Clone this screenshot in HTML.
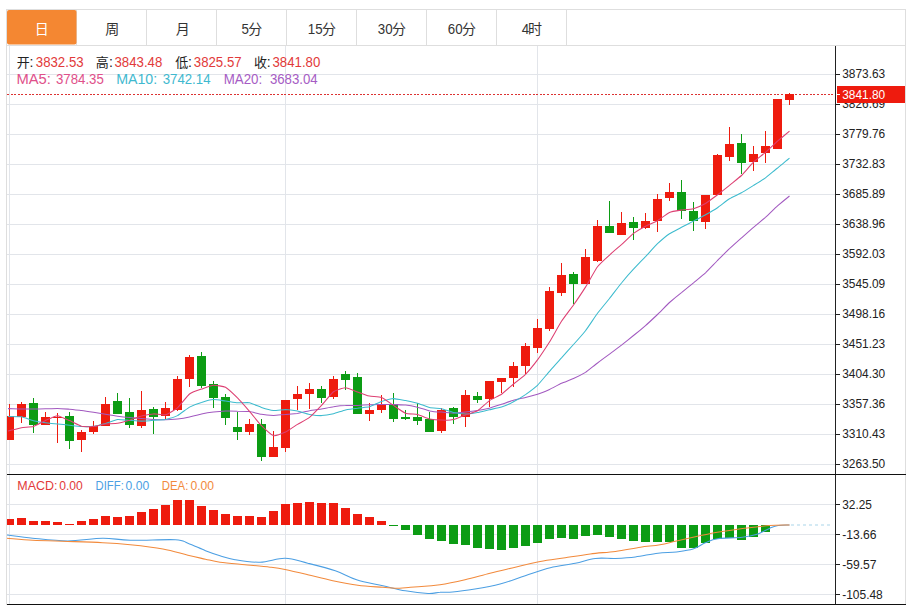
<!DOCTYPE html>
<html><head><meta charset="utf-8"><title>chart</title>
<style>html,body{margin:0;padding:0;background:#fff;width:910px;height:606px;overflow:hidden}</style></head>
<body>
<svg width="910" height="606" viewBox="0 0 910 606" style="display:block;font-family:'Liberation Sans','Noto Sans CJK SC',sans-serif">
<rect width="910" height="606" fill="#fff"/>
<g shape-rendering="crispEdges">
<rect x="7" y="74" width="828" height="1" fill="#e2e5ea"/>
<rect x="7" y="104" width="828" height="1" fill="#e2e5ea"/>
<rect x="7" y="134" width="828" height="1" fill="#e2e5ea"/>
<rect x="7" y="164" width="828" height="1" fill="#e2e5ea"/>
<rect x="7" y="194" width="828" height="1" fill="#e2e5ea"/>
<rect x="7" y="224" width="828" height="1" fill="#e2e5ea"/>
<rect x="7" y="254" width="828" height="1" fill="#e2e5ea"/>
<rect x="7" y="284" width="828" height="1" fill="#e2e5ea"/>
<rect x="7" y="314" width="828" height="1" fill="#e2e5ea"/>
<rect x="7" y="344" width="828" height="1" fill="#e2e5ea"/>
<rect x="7" y="374" width="828" height="1" fill="#e2e5ea"/>
<rect x="7" y="404" width="828" height="1" fill="#e2e5ea"/>
<rect x="7" y="434" width="828" height="1" fill="#e2e5ea"/>
<rect x="7" y="464" width="828" height="1" fill="#e2e5ea"/>
<rect x="7" y="504" width="828" height="1" fill="#e2e5ea"/>
<rect x="7" y="534" width="828" height="1" fill="#e2e5ea"/>
<rect x="7" y="564" width="828" height="1" fill="#e2e5ea"/>
<rect x="7" y="594" width="828" height="1" fill="#e2e5ea"/>
<rect x="9" y="46" width="1" height="428" fill="#e2e5ea"/>
<rect x="9" y="475" width="1" height="129" fill="#e2e5ea"/>
<rect x="285" y="46" width="1" height="428" fill="#e2e5ea"/>
<rect x="285" y="475" width="1" height="129" fill="#e2e5ea"/>
<rect x="537" y="46" width="1" height="428" fill="#e2e5ea"/>
<rect x="537" y="475" width="1" height="129" fill="#e2e5ea"/>
<rect x="6" y="9" width="900" height="1" fill="#dedede"/>
<rect x="6" y="45" width="900" height="1" fill="#dedede"/>
<rect x="6" y="9" width="1" height="596" fill="#dedede"/>
<rect x="905" y="9" width="1" height="596" fill="#dedede"/>
<rect x="76" y="10" width="1" height="35" fill="#dedede"/>
<rect x="146" y="10" width="1" height="35" fill="#dedede"/>
<rect x="216" y="10" width="1" height="35" fill="#dedede"/>
<rect x="286" y="10" width="1" height="35" fill="#dedede"/>
<rect x="356" y="10" width="1" height="35" fill="#dedede"/>
<rect x="426" y="10" width="1" height="35" fill="#dedede"/>
<rect x="496" y="10" width="1" height="35" fill="#dedede"/>
<rect x="566" y="10" width="1" height="35" fill="#dedede"/>
</g>
<rect x="7" y="10" width="69.5" height="34.5" rx="2" fill="#f48732"/>
<text x="34.69" y="33.6" font-size="14" fill="#fff">日</text>
<text x="105.36" y="33.6" font-size="14" fill="#333">周</text>
<text x="175.80" y="33.6" font-size="14" fill="#333">月</text>
<text x="241.5" y="33.6" font-size="14" fill="#333" textLength="7.4" lengthAdjust="spacingAndGlyphs">5</text>
<text x="248.21" y="33.6" font-size="14" fill="#333">分</text>
<text x="307.8" y="33.6" font-size="14" fill="#333" textLength="14.8" lengthAdjust="spacingAndGlyphs">15</text>
<text x="321.92" y="33.6" font-size="14" fill="#333">分</text>
<text x="377.8" y="33.6" font-size="14" fill="#333" textLength="14.8" lengthAdjust="spacingAndGlyphs">30</text>
<text x="391.92" y="33.6" font-size="14" fill="#333">分</text>
<text x="447.8" y="33.6" font-size="14" fill="#333" textLength="14.8" lengthAdjust="spacingAndGlyphs">60</text>
<text x="461.92" y="33.6" font-size="14" fill="#333">分</text>
<text x="521.8" y="33.6" font-size="14" fill="#333" textLength="7.4" lengthAdjust="spacingAndGlyphs">4</text>
<text x="527.95" y="33.6" font-size="14" fill="#333">时</text>
<text x="16.72" y="66.8" font-size="13" fill="#222">开</text>
<text x="29.4" y="66.8" font-size="14" fill="#222">:</text>
<text x="35.8" y="66.8" font-size="14" fill="#e23a3a" textLength="47.8" lengthAdjust="spacingAndGlyphs">3832.53</text>
<text x="95.73" y="66.8" font-size="13" fill="#222">高</text>
<text x="108.9" y="66.8" font-size="14" fill="#222">:</text>
<text x="114.5" y="66.8" font-size="14" fill="#e23a3a" textLength="47.8" lengthAdjust="spacingAndGlyphs">3843.48</text>
<text x="175.21" y="66.8" font-size="13" fill="#222">低</text>
<text x="188.0" y="66.8" font-size="14" fill="#222">:</text>
<text x="193.8" y="66.8" font-size="14" fill="#e23a3a" textLength="47.8" lengthAdjust="spacingAndGlyphs">3825.57</text>
<text x="253.91" y="66.8" font-size="13" fill="#222">收</text>
<text x="266.7" y="66.8" font-size="14" fill="#222">:</text>
<text x="272.5" y="66.8" font-size="14" fill="#e23a3a" textLength="47.8" lengthAdjust="spacingAndGlyphs">3841.80</text>
<text x="16.5" y="84.4" font-size="14" fill="#e0508a" textLength="34.4" lengthAdjust="spacingAndGlyphs">MA5:</text>
<text x="56.0" y="84.4" font-size="14" fill="#e0508a" textLength="47.8" lengthAdjust="spacingAndGlyphs">3784.35</text>
<text x="116.2" y="84.4" font-size="14" fill="#3fb9cf" textLength="41.0" lengthAdjust="spacingAndGlyphs">MA10:</text>
<text x="162.7" y="84.4" font-size="14" fill="#3fb9cf" textLength="47.8" lengthAdjust="spacingAndGlyphs">3742.14</text>
<text x="223.7" y="84.4" font-size="14" fill="#a65cc4" textLength="38.5" lengthAdjust="spacingAndGlyphs">MA20:</text>
<text x="269.9" y="84.4" font-size="14" fill="#a65cc4" textLength="47.8" lengthAdjust="spacingAndGlyphs">3683.04</text>
<line x1="7" y1="94.5" x2="836" y2="94.5" stroke="#dc3232" stroke-width="1" stroke-dasharray="2 1.6" shape-rendering="crispEdges"/>
<g shape-rendering="crispEdges">
<clipPath id="cp"><rect x="7" y="46" width="828" height="560"/></clipPath>
<g clip-path="url(#cp)">
<rect x="8.8" y="403.7" width="1.4" height="36.3" fill="#ee1b0e"/>
<rect x="5.0" y="416.4" width="9" height="23.6" fill="#ee1b0e"/>
<rect x="20.8" y="402.2" width="1.4" height="20.3" fill="#ee1b0e"/>
<rect x="17.0" y="403.9" width="9" height="12.6" fill="#ee1b0e"/>
<rect x="32.8" y="398.3" width="1.4" height="35.0" fill="#0c9c14"/>
<rect x="29.0" y="403.3" width="9" height="21.4" fill="#0c9c14"/>
<rect x="44.8" y="412.3" width="1.4" height="12.4" fill="#ee1b0e"/>
<rect x="41.0" y="417.2" width="9" height="7.5" fill="#ee1b0e"/>
<rect x="56.8" y="413.3" width="1.4" height="29.2" fill="#ee1b0e"/>
<rect x="53.0" y="416.5" width="9" height="1.0" fill="#ee1b0e"/>
<rect x="68.8" y="411.8" width="1.4" height="37.1" fill="#0c9c14"/>
<rect x="65.0" y="415.7" width="9" height="25.0" fill="#0c9c14"/>
<rect x="80.8" y="430.0" width="1.4" height="21.5" fill="#ee1b0e"/>
<rect x="77.0" y="432.2" width="9" height="7.5" fill="#ee1b0e"/>
<rect x="92.8" y="421.0" width="1.4" height="12.9" fill="#ee1b0e"/>
<rect x="89.0" y="426.4" width="9" height="5.4" fill="#ee1b0e"/>
<rect x="104.8" y="396.8" width="1.4" height="29.0" fill="#ee1b0e"/>
<rect x="101.0" y="403.9" width="9" height="21.9" fill="#ee1b0e"/>
<rect x="116.8" y="393.0" width="1.4" height="20.5" fill="#0c9c14"/>
<rect x="113.0" y="400.5" width="9" height="13.0" fill="#0c9c14"/>
<rect x="128.8" y="398.3" width="1.4" height="29.2" fill="#0c9c14"/>
<rect x="125.0" y="412.3" width="9" height="13.0" fill="#0c9c14"/>
<rect x="140.8" y="391.0" width="1.4" height="36.5" fill="#ee1b0e"/>
<rect x="137.0" y="410.3" width="9" height="15.5" fill="#ee1b0e"/>
<rect x="152.8" y="407.0" width="1.4" height="27.3" fill="#0c9c14"/>
<rect x="149.0" y="409.0" width="9" height="7.5" fill="#0c9c14"/>
<rect x="164.8" y="401.5" width="1.4" height="18.3" fill="#ee1b0e"/>
<rect x="161.0" y="408.2" width="9" height="7.3" fill="#ee1b0e"/>
<rect x="176.8" y="376.0" width="1.4" height="35.4" fill="#ee1b0e"/>
<rect x="173.0" y="378.6" width="9" height="31.1" fill="#ee1b0e"/>
<rect x="188.8" y="355.0" width="1.4" height="32.2" fill="#ee1b0e"/>
<rect x="185.0" y="356.5" width="9" height="22.5" fill="#ee1b0e"/>
<rect x="200.8" y="352.2" width="1.4" height="36.0" fill="#0c9c14"/>
<rect x="197.0" y="355.7" width="9" height="30.0" fill="#0c9c14"/>
<rect x="212.8" y="381.2" width="1.4" height="26.3" fill="#0c9c14"/>
<rect x="209.0" y="383.5" width="9" height="14.0" fill="#0c9c14"/>
<rect x="224.8" y="393.6" width="1.4" height="31.1" fill="#0c9c14"/>
<rect x="221.0" y="396.8" width="9" height="21.0" fill="#0c9c14"/>
<rect x="236.8" y="411.8" width="1.4" height="27.9" fill="#0c9c14"/>
<rect x="233.0" y="427.3" width="9" height="4.5" fill="#0c9c14"/>
<rect x="248.8" y="419.3" width="1.4" height="16.1" fill="#ee1b0e"/>
<rect x="245.0" y="424.0" width="9" height="7.8" fill="#ee1b0e"/>
<rect x="260.8" y="418.9" width="1.4" height="42.1" fill="#0c9c14"/>
<rect x="257.0" y="423.6" width="9" height="33.7" fill="#0c9c14"/>
<rect x="272.8" y="431.0" width="1.4" height="25.8" fill="#ee1b0e"/>
<rect x="269.0" y="447.2" width="9" height="9.6" fill="#ee1b0e"/>
<rect x="284.8" y="400.0" width="1.4" height="52.0" fill="#ee1b0e"/>
<rect x="281.0" y="400.0" width="9" height="47.6" fill="#ee1b0e"/>
<rect x="296.8" y="385.7" width="1.4" height="24.0" fill="#ee1b0e"/>
<rect x="293.0" y="393.6" width="9" height="5.8" fill="#ee1b0e"/>
<rect x="308.8" y="382.9" width="1.4" height="25.7" fill="#ee1b0e"/>
<rect x="305.0" y="388.9" width="9" height="5.1" fill="#ee1b0e"/>
<rect x="320.8" y="386.0" width="1.4" height="16.8" fill="#0c9c14"/>
<rect x="317.0" y="388.9" width="9" height="8.6" fill="#0c9c14"/>
<rect x="332.8" y="375.8" width="1.4" height="23.2" fill="#ee1b0e"/>
<rect x="329.0" y="379.2" width="9" height="17.6" fill="#ee1b0e"/>
<rect x="344.8" y="371.0" width="1.4" height="19.4" fill="#0c9c14"/>
<rect x="341.0" y="373.9" width="9" height="5.8" fill="#0c9c14"/>
<rect x="356.8" y="373.2" width="1.4" height="41.2" fill="#0c9c14"/>
<rect x="353.0" y="377.0" width="9" height="37.4" fill="#0c9c14"/>
<rect x="368.8" y="403.2" width="1.4" height="17.8" fill="#ee1b0e"/>
<rect x="365.0" y="409.7" width="9" height="4.3" fill="#ee1b0e"/>
<rect x="380.8" y="395.3" width="1.4" height="17.6" fill="#ee1b0e"/>
<rect x="377.0" y="404.3" width="9" height="5.8" fill="#ee1b0e"/>
<rect x="392.8" y="392.5" width="1.4" height="29.4" fill="#0c9c14"/>
<rect x="389.0" y="404.3" width="9" height="14.6" fill="#0c9c14"/>
<rect x="404.8" y="409.7" width="1.4" height="10.7" fill="#0c9c14"/>
<rect x="401.0" y="416.8" width="9" height="2.1" fill="#0c9c14"/>
<rect x="416.8" y="403.2" width="1.4" height="22.1" fill="#0c9c14"/>
<rect x="413.0" y="416.5" width="9" height="4.3" fill="#0c9c14"/>
<rect x="428.8" y="412.2" width="1.4" height="19.3" fill="#0c9c14"/>
<rect x="425.0" y="419.0" width="9" height="12.5" fill="#0c9c14"/>
<rect x="440.8" y="408.3" width="1.4" height="24.9" fill="#ee1b0e"/>
<rect x="437.0" y="410.0" width="9" height="21.0" fill="#ee1b0e"/>
<rect x="452.8" y="406.8" width="1.4" height="17.6" fill="#0c9c14"/>
<rect x="449.0" y="408.3" width="9" height="8.7" fill="#0c9c14"/>
<rect x="464.8" y="390.0" width="1.4" height="36.6" fill="#ee1b0e"/>
<rect x="461.0" y="395.0" width="9" height="21.5" fill="#ee1b0e"/>
<rect x="476.8" y="392.3" width="1.4" height="10.2" fill="#0c9c14"/>
<rect x="473.0" y="395.5" width="9" height="4.3" fill="#0c9c14"/>
<rect x="488.8" y="381.0" width="1.4" height="25.8" fill="#ee1b0e"/>
<rect x="485.0" y="381.0" width="9" height="18.3" fill="#ee1b0e"/>
<rect x="500.8" y="377.5" width="1.4" height="15.4" fill="#ee1b0e"/>
<rect x="497.0" y="378.3" width="9" height="3.4" fill="#ee1b0e"/>
<rect x="512.8" y="362.2" width="1.4" height="24.3" fill="#ee1b0e"/>
<rect x="509.0" y="366.0" width="9" height="11.9" fill="#ee1b0e"/>
<rect x="524.8" y="342.5" width="1.4" height="31.1" fill="#ee1b0e"/>
<rect x="521.0" y="346.2" width="9" height="19.5" fill="#ee1b0e"/>
<rect x="536.8" y="318.6" width="1.4" height="34.6" fill="#ee1b0e"/>
<rect x="533.0" y="328.0" width="9" height="19.9" fill="#ee1b0e"/>
<rect x="548.8" y="286.9" width="1.4" height="44.3" fill="#ee1b0e"/>
<rect x="545.0" y="291.4" width="9" height="37.6" fill="#ee1b0e"/>
<rect x="560.8" y="262.6" width="1.4" height="33.0" fill="#ee1b0e"/>
<rect x="557.0" y="275.0" width="9" height="18.0" fill="#ee1b0e"/>
<rect x="572.8" y="271.8" width="1.4" height="32.2" fill="#0c9c14"/>
<rect x="569.0" y="274.2" width="9" height="10.0" fill="#0c9c14"/>
<rect x="584.8" y="249.1" width="1.4" height="35.1" fill="#ee1b0e"/>
<rect x="581.0" y="257.1" width="9" height="27.1" fill="#ee1b0e"/>
<rect x="596.8" y="219.6" width="1.4" height="42.2" fill="#ee1b0e"/>
<rect x="593.0" y="226.2" width="9" height="34.8" fill="#ee1b0e"/>
<rect x="608.8" y="201.1" width="1.4" height="31.7" fill="#0c9c14"/>
<rect x="605.0" y="226.2" width="9" height="6.6" fill="#0c9c14"/>
<rect x="620.8" y="212.2" width="1.4" height="23.2" fill="#ee1b0e"/>
<rect x="617.0" y="223.0" width="9" height="11.9" fill="#ee1b0e"/>
<rect x="632.8" y="217.0" width="1.4" height="22.9" fill="#0c9c14"/>
<rect x="629.0" y="221.7" width="9" height="6.3" fill="#0c9c14"/>
<rect x="644.8" y="213.0" width="1.4" height="15.8" fill="#ee1b0e"/>
<rect x="641.0" y="220.9" width="9" height="7.1" fill="#ee1b0e"/>
<rect x="656.8" y="194.0" width="1.4" height="37.6" fill="#ee1b0e"/>
<rect x="653.0" y="198.6" width="9" height="22.7" fill="#ee1b0e"/>
<rect x="668.8" y="183.0" width="1.4" height="17.8" fill="#ee1b0e"/>
<rect x="665.0" y="191.5" width="9" height="6.6" fill="#ee1b0e"/>
<rect x="680.8" y="179.8" width="1.4" height="39.6" fill="#0c9c14"/>
<rect x="677.0" y="191.6" width="9" height="19.6" fill="#0c9c14"/>
<rect x="692.8" y="201.9" width="1.4" height="29.1" fill="#0c9c14"/>
<rect x="689.0" y="210.6" width="9" height="10.6" fill="#0c9c14"/>
<rect x="704.8" y="194.8" width="1.4" height="33.8" fill="#ee1b0e"/>
<rect x="701.0" y="194.8" width="9" height="27.2" fill="#ee1b0e"/>
<rect x="716.8" y="153.9" width="1.4" height="40.9" fill="#ee1b0e"/>
<rect x="713.0" y="155.2" width="9" height="39.6" fill="#ee1b0e"/>
<rect x="728.8" y="126.7" width="1.4" height="34.6" fill="#ee1b0e"/>
<rect x="725.0" y="143.9" width="9" height="12.6" fill="#ee1b0e"/>
<rect x="740.8" y="134.1" width="1.4" height="39.6" fill="#0c9c14"/>
<rect x="737.0" y="142.8" width="9" height="19.8" fill="#0c9c14"/>
<rect x="752.8" y="145.5" width="1.4" height="25.5" fill="#ee1b0e"/>
<rect x="749.0" y="153.9" width="9" height="7.9" fill="#ee1b0e"/>
<rect x="764.8" y="130.9" width="1.4" height="32.2" fill="#ee1b0e"/>
<rect x="761.0" y="146.0" width="9" height="7.4" fill="#ee1b0e"/>
<rect x="776.8" y="99.3" width="1.4" height="49.3" fill="#ee1b0e"/>
<rect x="773.0" y="99.3" width="9" height="49.3" fill="#ee1b0e"/>
<rect x="788.8" y="93.3" width="1.4" height="11.4" fill="#ee1b0e"/>
<rect x="785.0" y="94.3" width="9" height="6.0" fill="#ee1b0e"/>
<rect x="5.0" y="518.9" width="9" height="6.1" fill="#ee1b0e"/>
<rect x="17.0" y="518.4" width="9" height="6.6" fill="#ee1b0e"/>
<rect x="29.0" y="521.4" width="9" height="3.6" fill="#ee1b0e"/>
<rect x="41.0" y="521.1" width="9" height="3.9" fill="#ee1b0e"/>
<rect x="53.0" y="522.1" width="9" height="2.9" fill="#ee1b0e"/>
<rect x="65.0" y="524.0" width="9" height="1.0" fill="#ee1b0e"/>
<rect x="77.0" y="521.4" width="9" height="3.6" fill="#ee1b0e"/>
<rect x="89.0" y="519.1" width="9" height="5.9" fill="#ee1b0e"/>
<rect x="101.0" y="516.4" width="9" height="8.6" fill="#ee1b0e"/>
<rect x="113.0" y="516.9" width="9" height="8.1" fill="#ee1b0e"/>
<rect x="125.0" y="515.9" width="9" height="9.1" fill="#ee1b0e"/>
<rect x="137.0" y="512.1" width="9" height="12.9" fill="#ee1b0e"/>
<rect x="149.0" y="509.3" width="9" height="15.7" fill="#ee1b0e"/>
<rect x="161.0" y="505.1" width="9" height="19.9" fill="#ee1b0e"/>
<rect x="173.0" y="500.1" width="9" height="24.9" fill="#ee1b0e"/>
<rect x="185.0" y="500.1" width="9" height="24.9" fill="#ee1b0e"/>
<rect x="197.0" y="506.3" width="9" height="18.7" fill="#ee1b0e"/>
<rect x="209.0" y="510.1" width="9" height="14.9" fill="#ee1b0e"/>
<rect x="221.0" y="514.4" width="9" height="10.6" fill="#ee1b0e"/>
<rect x="233.0" y="516.1" width="9" height="8.9" fill="#ee1b0e"/>
<rect x="245.0" y="516.1" width="9" height="8.9" fill="#ee1b0e"/>
<rect x="257.0" y="517.1" width="9" height="7.9" fill="#ee1b0e"/>
<rect x="269.0" y="511.3" width="9" height="13.7" fill="#ee1b0e"/>
<rect x="281.0" y="503.8" width="9" height="21.2" fill="#ee1b0e"/>
<rect x="293.0" y="502.6" width="9" height="22.4" fill="#ee1b0e"/>
<rect x="305.0" y="502.1" width="9" height="22.9" fill="#ee1b0e"/>
<rect x="317.0" y="503.1" width="9" height="21.9" fill="#ee1b0e"/>
<rect x="329.0" y="503.3" width="9" height="21.7" fill="#ee1b0e"/>
<rect x="341.0" y="507.6" width="9" height="17.4" fill="#ee1b0e"/>
<rect x="353.0" y="514.4" width="9" height="10.6" fill="#ee1b0e"/>
<rect x="365.0" y="517.1" width="9" height="7.9" fill="#ee1b0e"/>
<rect x="377.0" y="520.9" width="9" height="4.1" fill="#ee1b0e"/>
<rect x="389.0" y="525" width="9" height="1.0" fill="#0c9c14"/>
<rect x="401.0" y="525" width="9" height="5.1" fill="#0c9c14"/>
<rect x="413.0" y="525" width="9" height="9.6" fill="#0c9c14"/>
<rect x="425.0" y="525" width="9" height="13.9" fill="#0c9c14"/>
<rect x="437.0" y="525" width="9" height="15.7" fill="#0c9c14"/>
<rect x="449.0" y="525" width="9" height="18.9" fill="#0c9c14"/>
<rect x="461.0" y="525" width="9" height="20.2" fill="#0c9c14"/>
<rect x="473.0" y="525" width="9" height="23.2" fill="#0c9c14"/>
<rect x="485.0" y="525" width="9" height="23.7" fill="#0c9c14"/>
<rect x="497.0" y="525" width="9" height="24.7" fill="#0c9c14"/>
<rect x="509.0" y="525" width="9" height="23.4" fill="#0c9c14"/>
<rect x="521.0" y="525" width="9" height="20.7" fill="#0c9c14"/>
<rect x="533.0" y="525" width="9" height="17.7" fill="#0c9c14"/>
<rect x="545.0" y="525" width="9" height="13.7" fill="#0c9c14"/>
<rect x="557.0" y="525" width="9" height="13.2" fill="#0c9c14"/>
<rect x="569.0" y="525" width="9" height="13.7" fill="#0c9c14"/>
<rect x="581.0" y="525" width="9" height="10.9" fill="#0c9c14"/>
<rect x="593.0" y="525" width="9" height="9.6" fill="#0c9c14"/>
<rect x="605.0" y="525" width="9" height="12.2" fill="#0c9c14"/>
<rect x="617.0" y="525" width="9" height="13.7" fill="#0c9c14"/>
<rect x="629.0" y="525" width="9" height="15.7" fill="#0c9c14"/>
<rect x="641.0" y="525" width="9" height="16.7" fill="#0c9c14"/>
<rect x="653.0" y="525" width="9" height="16.7" fill="#0c9c14"/>
<rect x="665.0" y="525" width="9" height="17.3" fill="#0c9c14"/>
<rect x="677.0" y="525" width="9" height="23.0" fill="#0c9c14"/>
<rect x="689.0" y="525" width="9" height="23.0" fill="#0c9c14"/>
<rect x="701.0" y="525" width="9" height="17.8" fill="#0c9c14"/>
<rect x="713.0" y="525" width="9" height="13.7" fill="#0c9c14"/>
<rect x="725.0" y="525" width="9" height="12.9" fill="#0c9c14"/>
<rect x="737.0" y="525" width="9" height="14.8" fill="#0c9c14"/>
<rect x="749.0" y="525" width="9" height="11.5" fill="#0c9c14"/>
<rect x="761.0" y="525" width="9" height="6.8" fill="#0c9c14"/>
</g></g>
<path d="M8.0 408.6C9.0 408.6 19.6 409.0 21.5 409.0C23.4 409.0 31.7 409.0 33.5 409.0C35.3 409.0 43.7 408.8 45.5 408.8C47.3 408.8 55.7 408.6 57.5 408.6C59.3 408.6 67.7 409.1 69.5 409.2C71.3 409.3 79.7 410.3 81.5 410.5C83.3 410.7 91.7 412.0 93.5 412.3C95.3 412.6 103.7 414.0 105.5 414.3C107.3 414.6 115.7 416.0 117.5 416.2C119.3 416.4 127.7 417.4 129.5 417.6C131.3 417.8 139.7 418.5 141.5 418.6C143.3 418.7 151.7 419.4 153.5 419.5C155.3 419.6 163.7 419.8 165.5 419.8C167.3 419.8 175.7 419.2 177.5 419.0C179.3 418.8 187.7 417.4 189.5 417.0C191.3 416.6 199.7 414.4 201.5 414.0C203.3 413.6 211.7 412.2 213.5 412.0C215.3 411.8 223.7 411.1 225.5 411.0C227.3 410.9 235.7 411.1 237.5 411.2C239.3 411.2 247.7 411.3 249.5 411.6C251.3 411.8 259.7 414.0 261.5 414.2C263.3 414.5 271.7 415.3 273.5 415.4C275.3 415.4 283.7 414.6 285.5 414.5C287.3 414.3 295.7 413.6 297.5 413.4C299.3 413.1 307.7 411.1 309.5 410.8C311.3 410.4 319.7 409.3 321.5 409.0C323.3 408.7 331.7 406.9 333.5 406.7C335.3 406.4 343.7 405.5 345.5 405.5C347.3 405.4 355.7 405.6 357.5 405.5C359.3 405.4 367.7 404.8 369.5 404.7C371.3 404.6 379.7 404.4 381.5 404.4C383.3 404.4 391.7 404.5 393.5 404.5C395.3 404.6 403.7 404.9 405.5 405.1C407.3 405.3 415.7 406.8 417.5 407.2C419.3 407.6 427.7 410.6 429.5 410.9C431.3 411.3 439.7 412.0 441.5 412.1C443.3 412.3 451.7 413.1 453.5 413.1C455.3 413.1 463.7 412.2 465.5 412.0C467.3 411.8 475.7 410.7 477.5 410.4C479.3 410.1 487.7 408.7 489.5 408.2C491.3 407.8 499.7 404.9 501.5 404.3C503.3 403.7 511.7 400.7 513.5 400.2C515.3 399.7 523.7 398.0 525.5 397.5C527.3 397.1 535.7 394.9 537.5 394.3C539.3 393.7 547.7 390.2 549.5 389.4C551.3 388.6 559.7 384.1 561.5 383.3C563.3 382.5 571.7 379.3 573.5 378.5C575.3 377.7 583.7 373.5 585.5 372.4C587.3 371.2 595.7 364.3 597.5 363.0C599.3 361.6 607.7 355.4 609.5 354.1C611.3 352.8 619.7 346.4 621.5 345.1C623.3 343.7 631.7 336.9 633.5 335.5C635.3 334.1 643.7 327.2 645.5 325.6C647.3 324.1 655.7 316.2 657.5 314.5C659.3 312.8 667.7 304.1 669.5 302.5C671.3 300.9 679.7 294.0 681.5 292.6C683.3 291.1 691.7 284.2 693.5 282.8C695.3 281.3 703.7 274.4 705.5 272.8C707.3 271.1 715.7 262.3 717.5 260.5C719.3 258.8 727.7 250.3 729.5 248.7C731.3 247.0 739.7 239.5 741.5 237.9C743.3 236.3 751.7 228.8 753.5 227.3C755.3 225.8 763.7 218.8 765.5 217.3C767.3 215.7 775.7 207.4 777.5 205.8C779.3 204.3 788.6 196.7 789.5 196.0" fill="none" stroke="#a259c0" stroke-width="1.05" stroke-linejoin="round"/>
<path d="M8.0 416.5C9.0 416.5 19.6 416.5 21.5 416.8C23.4 417.1 31.7 420.4 33.5 420.8C35.3 421.2 43.7 422.6 45.5 422.8C47.3 423.0 55.7 423.8 57.5 424.0C59.3 424.2 67.7 425.0 69.5 425.2C71.3 425.4 79.7 426.4 81.5 426.5C83.3 426.6 91.7 426.5 93.5 426.3C95.3 426.1 103.7 424.0 105.5 423.5C107.3 423.0 115.7 419.8 117.5 419.5C119.3 419.3 127.7 420.3 129.5 420.4C131.3 420.5 139.7 421.1 141.5 421.1C143.3 421.1 151.7 420.4 153.5 420.2C155.3 420.1 163.7 419.7 165.5 419.4C167.3 419.0 175.7 416.5 177.5 415.6C179.3 414.7 187.7 408.1 189.5 407.1C191.3 406.2 199.7 403.0 201.5 402.5C203.3 401.9 211.7 399.7 213.5 399.6C215.3 399.5 223.7 400.8 225.5 401.0C227.3 401.2 235.7 402.7 237.5 402.8C239.3 402.9 247.7 402.4 249.5 402.7C251.3 403.0 259.7 406.8 261.5 407.4C263.3 408.0 271.7 410.3 273.5 410.5C275.3 410.6 283.7 409.6 285.5 409.6C287.3 409.7 295.7 410.8 297.5 411.1C299.3 411.5 307.7 414.1 309.5 414.4C311.3 414.7 319.7 415.6 321.5 415.6C323.3 415.5 331.7 414.1 333.5 413.7C335.3 413.3 343.7 410.3 345.5 409.9C347.3 409.5 355.7 408.4 357.5 408.2C359.3 407.9 367.7 407.2 369.5 406.8C371.3 406.3 379.7 402.0 381.5 401.4C383.3 400.9 391.7 398.7 393.5 398.6C395.3 398.6 403.7 400.2 405.5 400.5C407.3 400.8 415.7 402.7 417.5 403.2C419.3 403.7 427.7 407.1 429.5 407.5C431.3 407.9 439.7 408.4 441.5 408.7C443.3 409.1 451.7 412.1 453.5 412.5C455.3 412.9 463.7 414.0 465.5 414.1C467.3 414.1 475.7 412.9 477.5 412.6C479.3 412.3 487.7 410.1 489.5 409.7C491.3 409.3 499.7 407.7 501.5 407.1C503.3 406.5 511.7 402.8 513.5 401.8C515.3 400.9 523.7 395.8 525.5 394.6C527.3 393.3 535.7 387.0 537.5 385.3C539.3 383.6 547.7 373.3 549.5 371.3C551.3 369.3 559.7 359.7 561.5 357.8C563.3 355.8 571.7 346.5 573.5 344.5C575.3 342.5 583.7 333.0 585.5 330.7C587.3 328.4 595.7 315.7 597.5 313.3C599.3 311.0 607.7 300.7 609.5 298.5C611.3 296.3 619.7 285.1 621.5 283.0C623.3 280.8 631.7 271.1 633.5 269.2C635.3 267.3 643.7 258.5 645.5 256.7C647.3 254.8 655.7 245.4 657.5 243.7C659.3 242.0 667.7 234.9 669.5 233.7C671.3 232.5 679.7 228.3 681.5 227.3C683.3 226.4 691.7 222.0 693.5 221.1C695.3 220.1 703.7 215.8 705.5 214.8C707.3 213.8 715.7 208.9 717.5 207.7C719.3 206.5 727.7 199.9 729.5 198.8C731.3 197.7 739.7 193.8 741.5 192.8C743.3 191.8 751.7 186.5 753.5 185.4C755.3 184.3 763.7 179.2 765.5 177.9C767.3 176.6 775.7 169.4 777.5 168.0C779.3 166.5 788.6 159.0 789.5 158.2" fill="none" stroke="#3cbbce" stroke-width="1.05" stroke-linejoin="round"/>
<path d="M8.0 431.0C9.0 430.8 19.6 428.0 21.5 427.7C23.4 427.4 31.7 427.0 33.5 426.5C35.3 426.0 43.7 421.2 45.5 420.4C47.3 419.6 55.7 415.7 57.5 415.7C59.3 415.8 67.7 419.8 69.5 420.6C71.3 421.4 79.7 425.8 81.5 426.3C83.3 426.7 91.7 426.8 93.5 426.6C95.3 426.4 103.7 424.2 105.5 423.9C107.3 423.7 115.7 423.6 117.5 423.3C119.3 423.1 127.7 420.8 129.5 420.3C131.3 419.7 139.7 416.3 141.5 415.9C143.3 415.4 151.7 414.0 153.5 413.9C155.3 413.8 163.7 415.2 165.5 414.8C167.3 414.3 175.7 409.3 177.5 407.8C179.3 406.3 187.7 395.4 189.5 394.0C191.3 392.7 199.7 389.7 201.5 389.1C203.3 388.5 211.7 385.4 213.5 385.3C215.3 385.2 223.7 386.3 225.5 387.2C227.3 388.1 235.7 396.1 237.5 397.9C239.3 399.6 247.7 409.3 249.5 411.4C251.3 413.4 259.7 423.9 261.5 425.7C263.3 427.5 271.7 435.2 273.5 435.6C275.3 436.1 283.7 432.9 285.5 432.1C287.3 431.2 295.7 425.5 297.5 424.4C299.3 423.3 307.7 418.8 309.5 417.4C311.3 416.0 319.7 407.3 321.5 405.4C323.3 403.6 331.7 393.1 333.5 391.8C335.3 390.5 343.7 387.8 345.5 387.8C347.3 387.8 355.7 391.3 357.5 391.9C359.3 392.6 367.7 395.7 369.5 396.1C371.3 396.5 379.7 396.8 381.5 397.5C383.3 398.1 391.7 404.2 393.5 405.4C395.3 406.6 403.7 412.6 405.5 413.2C407.3 413.9 415.7 414.1 417.5 414.5C419.3 414.9 427.7 418.5 429.5 418.9C431.3 419.3 439.7 420.0 441.5 420.0C443.3 420.1 451.7 420.0 453.5 419.6C455.3 419.3 463.7 415.5 465.5 414.9C467.3 414.2 475.7 411.7 477.5 410.7C479.3 409.6 487.7 401.8 489.5 400.6C491.3 399.4 499.7 395.4 501.5 394.2C503.3 393.0 511.7 385.5 513.5 384.0C515.3 382.6 523.7 376.0 525.5 374.3C527.3 372.5 535.7 362.3 537.5 359.9C539.3 357.5 547.7 344.8 549.5 342.0C551.3 339.2 559.7 324.0 561.5 321.3C563.3 318.6 571.7 307.5 573.5 305.0C575.3 302.5 583.7 289.9 585.5 287.1C587.3 284.3 595.7 269.1 597.5 266.8C599.3 264.4 607.7 256.7 609.5 255.1C611.3 253.4 619.7 246.2 621.5 244.7C623.3 243.1 631.7 234.8 633.5 233.4C635.3 232.1 643.7 227.1 645.5 226.2C647.3 225.2 655.7 221.7 657.5 220.7C659.3 219.6 667.7 213.2 669.5 212.4C671.3 211.6 679.7 210.3 681.5 210.0C683.3 209.8 691.7 209.2 693.5 208.7C695.3 208.2 703.7 204.5 705.5 203.5C707.3 202.4 715.7 196.1 717.5 194.8C719.3 193.4 727.7 186.7 729.5 185.3C731.3 183.8 739.7 177.2 741.5 175.5C743.3 173.8 751.7 163.8 753.5 162.1C755.3 160.4 763.7 153.9 765.5 152.3C767.3 150.8 775.7 142.7 777.5 141.1C779.3 139.6 788.6 131.9 789.5 131.2" fill="none" stroke="#dd3f72" stroke-width="1.05" stroke-linejoin="round"/>
<path d="M7.0 535.1C11.3 535.6 22.5 537.2 32.6 538.2C42.7 539.2 56.0 540.9 67.7 540.9C79.4 540.9 92.3 538.3 102.7 538.2C113.1 538.1 118.2 540.0 130.3 540.2C142.4 540.5 165.8 539.2 175.4 539.7C185.0 540.2 182.9 541.4 187.9 543.2C192.9 545.0 200.2 548.6 205.5 550.7C210.8 552.8 215.1 554.2 220.0 555.7C224.9 557.2 228.3 558.6 235.0 559.7C241.7 560.8 251.8 562.5 260.1 562.2C268.5 562.0 277.2 558.0 285.1 558.2C293.0 558.4 299.3 561.1 307.7 563.2C316.1 565.3 327.1 568.0 335.3 570.7C343.5 573.5 348.7 577.2 356.6 579.7C364.5 582.2 374.8 583.9 382.9 585.8C391.0 587.6 397.9 589.5 405.4 590.8C412.9 592.1 422.2 593.2 428.0 593.5C433.8 593.8 435.9 592.5 440.0 592.3C444.1 592.0 446.7 592.5 452.5 592.0C458.3 591.5 467.1 590.3 475.0 589.0C482.9 587.7 491.7 586.2 500.1 584.0C508.5 581.8 516.8 578.4 525.2 575.7C533.6 573.0 541.9 569.8 550.3 567.7C558.6 565.6 567.8 564.8 575.3 563.2C582.8 561.7 588.7 559.2 595.4 558.4C602.1 557.6 608.7 558.6 615.4 558.4C622.1 558.1 628.3 557.8 635.4 556.9C642.5 556.0 651.1 554.0 658.0 553.2C664.9 552.4 670.7 552.6 676.5 551.9C682.3 551.2 688.2 550.6 693.0 549.1C697.8 547.6 701.2 544.5 705.3 542.8C709.4 541.1 711.5 539.6 717.7 538.7C723.9 537.8 736.0 538.0 742.4 537.3C748.8 536.6 751.6 536.1 756.2 534.6C760.8 533.1 766.2 529.7 769.9 528.2C773.5 526.7 774.8 526.0 778.1 525.5C781.4 525.0 787.6 525.1 789.5 525.0" fill="none" stroke="#4c9fe3" stroke-width="1.05" stroke-linejoin="round"/>
<path d="M7.0 538.2C11.3 538.5 22.5 539.7 32.6 540.2C42.7 540.7 56.0 541.0 67.7 541.4C79.4 541.8 92.3 542.2 102.7 542.7C113.1 543.2 120.3 543.7 130.3 544.7C140.3 545.7 153.3 547.1 162.9 548.9C172.5 550.6 180.8 553.5 187.9 555.2C195.0 556.9 200.2 558.0 205.5 559.2C210.8 560.4 213.4 561.3 220.0 562.2C226.6 563.1 236.7 563.9 245.0 564.7C253.3 565.5 263.3 566.4 270.0 567.2C276.7 568.0 278.7 568.2 285.0 569.5C291.3 570.8 299.7 572.8 307.7 574.7C315.7 576.6 324.4 578.9 332.8 580.7C341.2 582.5 349.5 584.2 357.8 585.3C366.1 586.4 376.6 586.8 382.9 587.3C389.2 587.8 390.8 588.3 395.4 588.3C400.0 588.3 405.0 587.7 410.4 587.3C415.8 586.9 423.1 586.4 428.0 586.0C432.9 585.6 433.8 585.8 440.0 584.8C446.2 583.8 456.7 581.6 465.0 579.7C473.3 577.8 481.6 575.3 490.0 573.2C498.4 571.1 506.8 569.2 515.2 567.2C523.6 565.2 531.9 563.1 540.2 561.5C548.6 559.9 556.9 559.0 565.3 557.7C573.6 556.4 581.9 555.0 590.3 553.9C598.6 552.8 607.0 552.5 615.4 551.4C623.8 550.3 633.1 548.3 640.5 547.2C647.9 546.1 654.0 545.8 660.0 544.7C666.0 543.7 671.0 542.1 676.5 540.9C682.0 539.7 687.5 538.5 693.0 537.3C698.5 536.1 704.0 534.8 709.5 533.7C715.0 532.7 720.4 531.9 725.9 531.0C731.4 530.1 737.3 529.2 742.4 528.5C747.5 527.8 751.6 527.4 756.2 526.9C760.8 526.4 764.4 525.8 769.9 525.5C775.4 525.2 786.2 525.1 789.5 525.0" fill="none" stroke="#f28a3c" stroke-width="1.05" stroke-linejoin="round"/>
<line x1="791" y1="525" x2="833" y2="525" stroke="#a9d6ea" stroke-width="1.2" stroke-dasharray="3 3"/>
<text x="17.3" y="490.0" font-size="12.6" fill="#e23a3a" textLength="40.2" lengthAdjust="spacingAndGlyphs">MACD:</text>
<text x="59.2" y="490.0" font-size="12.6" fill="#e23a3a" textLength="23.6" lengthAdjust="spacingAndGlyphs">0.00</text>
<text x="95.6" y="490.0" font-size="12.6" fill="#4c9fe3" textLength="28.2" lengthAdjust="spacingAndGlyphs">DIFF:</text>
<text x="125.6" y="490.0" font-size="12.6" fill="#4c9fe3" textLength="23.6" lengthAdjust="spacingAndGlyphs">0.00</text>
<text x="161.8" y="490.0" font-size="12.6" fill="#f28a3c" textLength="26.6" lengthAdjust="spacingAndGlyphs">DEA:</text>
<text x="190.5" y="490.0" font-size="12.6" fill="#f28a3c" textLength="23.6" lengthAdjust="spacingAndGlyphs">0.00</text>
<g shape-rendering="crispEdges">
<rect x="835" y="46" width="1" height="559" fill="#222"/>
<rect x="7" y="474" width="899" height="1" fill="#111"/>
<rect x="7" y="604" width="899" height="1" fill="#111"/>
<rect x="836" y="74" width="4" height="1" fill="#222"/>
<rect x="836" y="104" width="4" height="1" fill="#222"/>
<rect x="836" y="134" width="4" height="1" fill="#222"/>
<rect x="836" y="164" width="4" height="1" fill="#222"/>
<rect x="836" y="194" width="4" height="1" fill="#222"/>
<rect x="836" y="224" width="4" height="1" fill="#222"/>
<rect x="836" y="254" width="4" height="1" fill="#222"/>
<rect x="836" y="284" width="4" height="1" fill="#222"/>
<rect x="836" y="314" width="4" height="1" fill="#222"/>
<rect x="836" y="344" width="4" height="1" fill="#222"/>
<rect x="836" y="374" width="4" height="1" fill="#222"/>
<rect x="836" y="404" width="4" height="1" fill="#222"/>
<rect x="836" y="434" width="4" height="1" fill="#222"/>
<rect x="836" y="464" width="4" height="1" fill="#222"/>
<rect x="836" y="504" width="4" height="1" fill="#222"/>
<rect x="836" y="534" width="4" height="1" fill="#222"/>
<rect x="836" y="564" width="4" height="1" fill="#222"/>
<rect x="836" y="594" width="4" height="1" fill="#222"/>
</g>
<text x="842.2" y="78.0" font-size="12.4" fill="#222" textLength="43.0" lengthAdjust="spacingAndGlyphs">3873.63</text>
<text x="842.2" y="108.0" font-size="12.4" fill="#222" textLength="43.0" lengthAdjust="spacingAndGlyphs">3826.69</text>
<text x="842.2" y="138.0" font-size="12.4" fill="#222" textLength="43.0" lengthAdjust="spacingAndGlyphs">3779.76</text>
<text x="842.2" y="168.0" font-size="12.4" fill="#222" textLength="43.0" lengthAdjust="spacingAndGlyphs">3732.83</text>
<text x="842.2" y="198.0" font-size="12.4" fill="#222" textLength="43.0" lengthAdjust="spacingAndGlyphs">3685.89</text>
<text x="842.2" y="228.0" font-size="12.4" fill="#222" textLength="43.0" lengthAdjust="spacingAndGlyphs">3638.96</text>
<text x="842.2" y="258.0" font-size="12.4" fill="#222" textLength="43.0" lengthAdjust="spacingAndGlyphs">3592.03</text>
<text x="842.2" y="288.0" font-size="12.4" fill="#222" textLength="43.0" lengthAdjust="spacingAndGlyphs">3545.09</text>
<text x="842.2" y="318.0" font-size="12.4" fill="#222" textLength="43.0" lengthAdjust="spacingAndGlyphs">3498.16</text>
<text x="842.2" y="348.0" font-size="12.4" fill="#222" textLength="43.0" lengthAdjust="spacingAndGlyphs">3451.23</text>
<text x="842.2" y="378.0" font-size="12.4" fill="#222" textLength="43.0" lengthAdjust="spacingAndGlyphs">3404.30</text>
<text x="842.2" y="408.0" font-size="12.4" fill="#222" textLength="43.0" lengthAdjust="spacingAndGlyphs">3357.36</text>
<text x="842.2" y="438.0" font-size="12.4" fill="#222" textLength="43.0" lengthAdjust="spacingAndGlyphs">3310.43</text>
<text x="842.2" y="468.0" font-size="12.4" fill="#222" textLength="43.0" lengthAdjust="spacingAndGlyphs">3263.50</text>
<text x="842.2" y="508.6" font-size="12.1" fill="#222" textLength="29.7" lengthAdjust="spacingAndGlyphs">32.25</text>
<text x="842.2" y="538.6" font-size="12.1" fill="#222" textLength="34.4" lengthAdjust="spacingAndGlyphs">-13.66</text>
<text x="842.2" y="568.6" font-size="12.1" fill="#222" textLength="34.4" lengthAdjust="spacingAndGlyphs">-59.57</text>
<text x="842.2" y="598.6" font-size="12.1" fill="#222" textLength="40.6" lengthAdjust="spacingAndGlyphs">-105.48</text>
<rect x="837" y="86" width="68" height="17" fill="#ee1b0e" shape-rendering="crispEdges"/>
<rect x="836" y="94" width="4" height="1" fill="#fff" shape-rendering="crispEdges"/>
<text x="842.2" y="98.6" font-size="12.4" fill="#fff" textLength="43.0" lengthAdjust="spacingAndGlyphs">3841.80</text>
</svg>
</body></html>
